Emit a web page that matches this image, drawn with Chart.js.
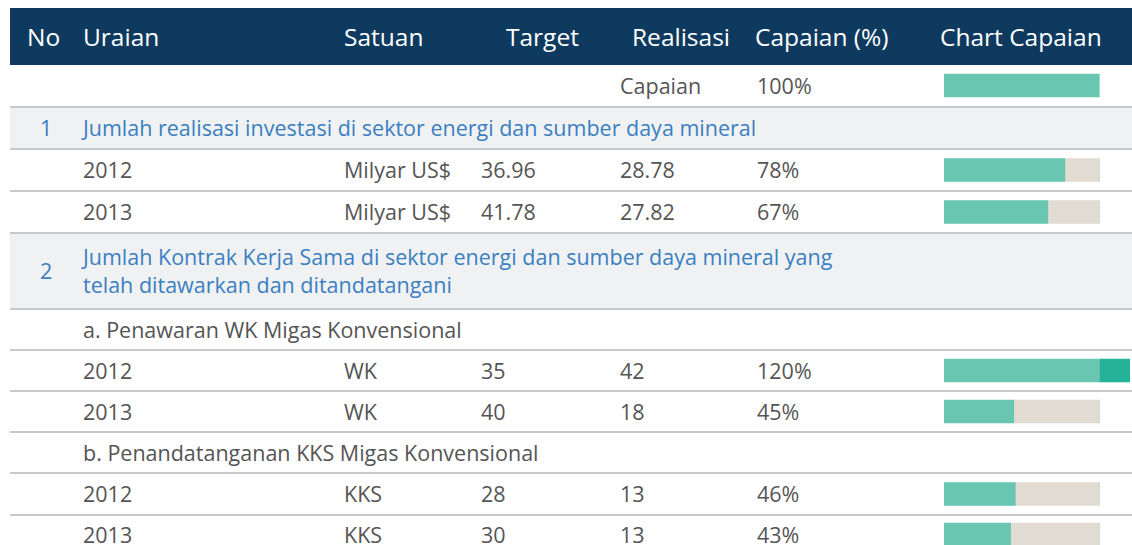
<!DOCTYPE html>
<html>
<head>
<meta charset="utf-8">
<script src="https://cdn.jsdelivr.net/npm/chart.js@4"></script>
<style>
  html, body { margin: 0; padding: 0; background: #fff; }
  body { width: 1132px; height: 545px; overflow: hidden; font-family: "Open Sans", sans-serif; color: #555; }
  #sheet { position: absolute; left: 10px; top: 8px; width: 1122px; }
  .row { position: relative; box-sizing: border-box; border-top: 2px solid #c9c9c9; }
  .row.head { background: #0f3a60; color: #fff; border-top: none; height: 57px; }
  .row.first { border-top: none; }
  .row.section { background: #f0f1f3; color: #3a7fc1; }
  .cell { position: absolute; top: 0; bottom: 0; display: flex; align-items: center; white-space: nowrap; font-size: 21.5px; line-height: 22px; }
  .head .cell { font-size: 24.5px; }
  .cell.wrap { line-height: 28px; }
  canvas { display: block; }
</style>
</head>
<body>
<div id="sheet"></div>
<script>
const headers = ["No", "Uraian", "Satuan", "Target", "Realisasi", "Capaian (%)", "Chart Capaian"];
const headerX = [17, 73, 334, 496, 622, 745, 930];
const dataX = [30, 73, 334, 471, 610, 747, 934];

const sectionNo = ["1", "2"];
const sectionTitles = [
    "Jumlah realisasi investasi di sektor energi dan sumber daya mineral",
    "Jumlah Kontrak Kerja Sama di sektor energi dan sumber daya mineral yang<br>telah ditawarkan dan ditandatangani"
];
const subTitles = ["a. Penawaran WK Migas Konvensional", "b. Penandatanganan KKS Migas Konvensional"];

const years = ["2012", "2013", "2012", "2013", "2012", "2013"];
const units = ["Milyar US$", "Milyar US$", "WK", "WK", "KKS", "KKS"];
const targets = ["36.96", "41.78", "35", "40", "28", "30"];
const realisasi = ["28.78", "27.82", "42", "18", "13", "13"];
const capaian = [78, 67, 120, 45, 46, 43];

const refLabel = "Capaian";
const refValue = 100;

const sheet = document.getElementById("sheet");
const bars = [];

function addRow(cls, height, cells) {
    const row = document.createElement("div");
    row.className = "row " + cls;
    row.style.height = height + "px";
    cells.forEach(([x, html, extra]) => {
        const c = document.createElement("div");
        c.className = "cell" + (extra ? " " + extra : "");
        c.style.left = x + "px";
        c.innerHTML = html;
        row.appendChild(c);
    });
    sheet.appendChild(row);
    return row;
}

function addBar(row, value) {
    const c = document.createElement("canvas");
    c.width = 186;
    c.height = row.clientHeight;
    c.style.position = "absolute";
    c.style.left = dataX[6] + "px";
    c.style.top = "0px";
    row.appendChild(c);
    bars.push([c, value]);
}

// header
addRow("head", 57, headers.map((h, i) => [headerX[i], h]));

// reference row
let r = addRow("first", 41, [[dataX[4], refLabel], [dataX[5], refValue + "%"]]);
addBar(r, refValue);

function dataRow(i, h) {
    const row = addRow("", h, [
        [dataX[1], years[i]],
        [dataX[2], units[i]],
        [dataX[3], targets[i]],
        [dataX[4], realisasi[i]],
        [dataX[5], capaian[i] + "%"]
    ]);
    addBar(row, capaian[i]);
}

addRow("section", 42, [[dataX[0], sectionNo[0]], [dataX[1], sectionTitles[0]]]);
dataRow(0, 42);
dataRow(1, 42);
addRow("section", 76, [[dataX[0], sectionNo[1]], [dataX[1], sectionTitles[1], "wrap"]]);
addRow("", 41, [[dataX[1], subTitles[0]]]);
dataRow(2, 41);
dataRow(3, 41);
addRow("", 41, [[dataX[1], subTitles[1]]]);
dataRow(4, 42);
dataRow(5, 39);

bars.forEach(([canvas, v]) => {
    new Chart(canvas, {
        type: "bar",
        data: {
            labels: [""],
            datasets: [
                { data: [Math.min(v, 100)], backgroundColor: "#69c6b0" },
                { data: [Math.max(100 - v, 0)], backgroundColor: "#e2dbd2" },
                { data: [Math.max(v - 100, 0)], backgroundColor: "#24b298" }
            ]
        },
        options: {
            indexAxis: "y",
            responsive: false,
            animation: false,
            barThickness: 23,
            borderWidth: 0,
            layout: { padding: 0 },
            scales: {
                x: { stacked: true, display: false, min: 0, max: 120 },
                y: { stacked: true, display: false }
            },
            plugins: { legend: { display: false }, tooltip: { enabled: false } }
        }
    });
});
</script>
</body>
</html>
